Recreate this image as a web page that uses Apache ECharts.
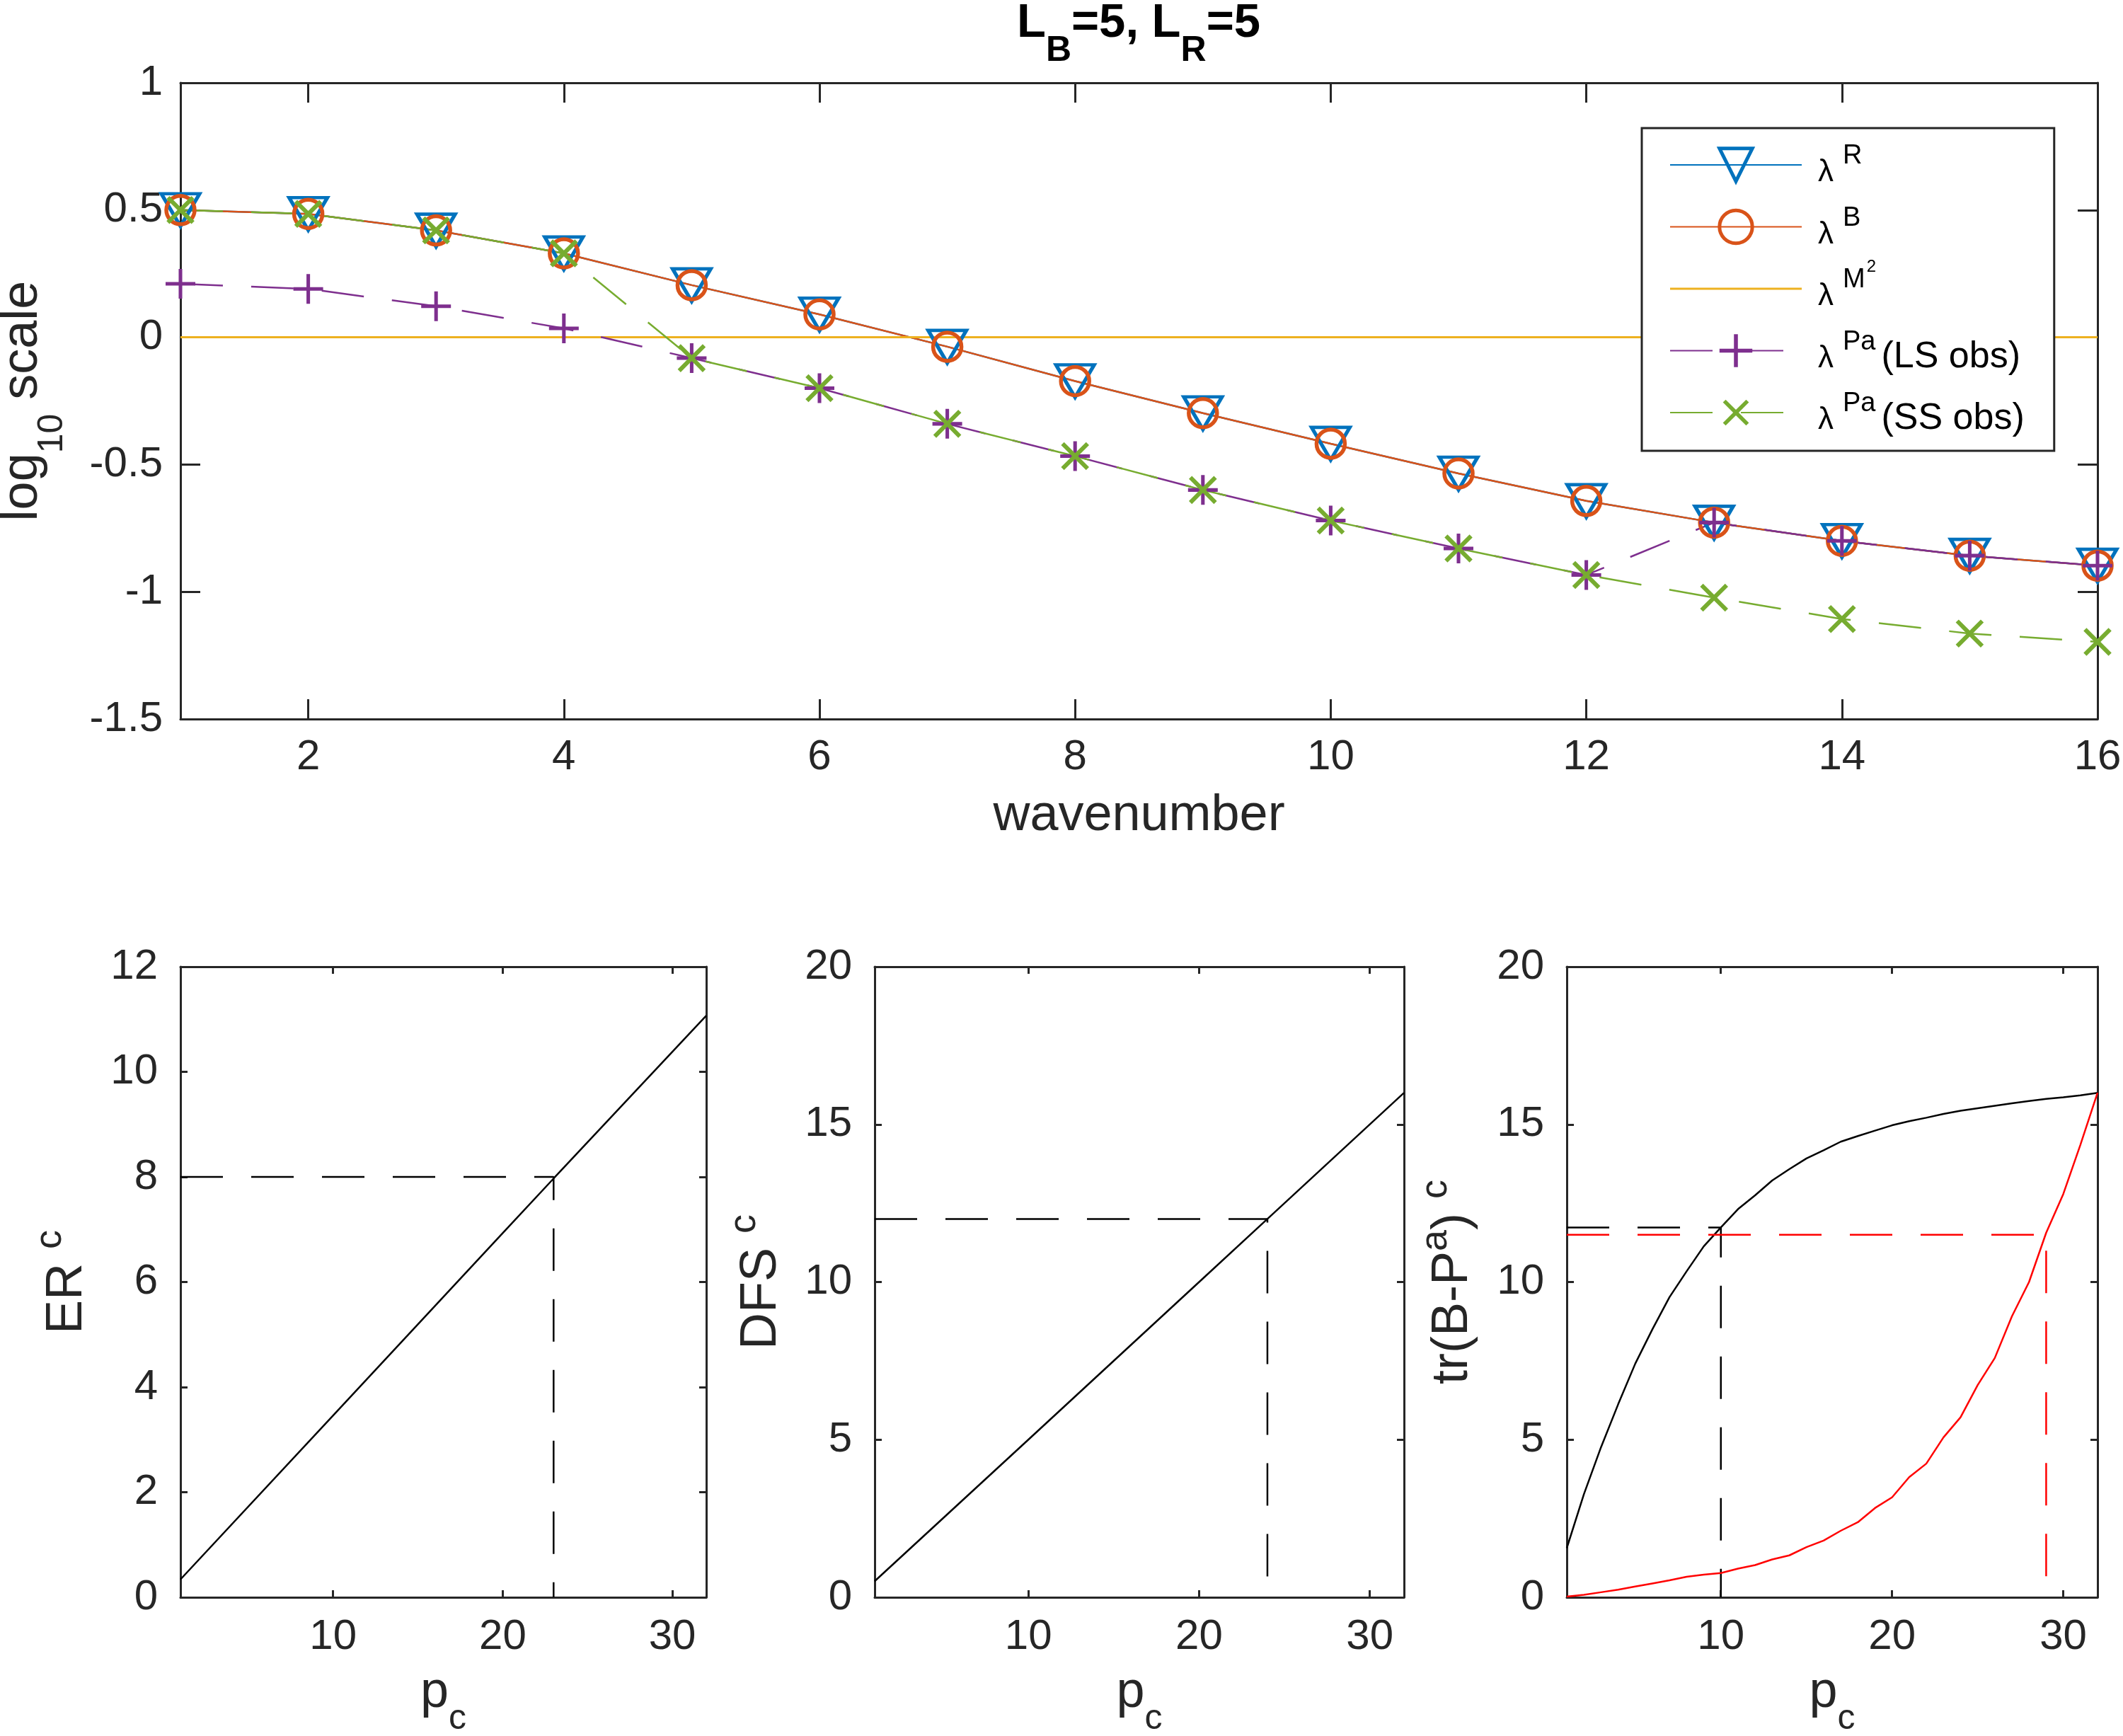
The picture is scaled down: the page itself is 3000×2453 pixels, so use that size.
<!DOCTYPE html>
<html><head><meta charset="utf-8">
<script src="https://cdn.jsdelivr.net/npm/echarts@6/dist/echarts.min.js"></script>
<style>html,body{margin:0;padding:0;background:#fff}#c{width:3000px;height:2453px}</style>
</head><body><div id="c"></div>
<script>
// ---------- data ----------
const wavenumbers = [1,2,3,4,5,6,7,8,9,10,11,12,13,14,15,16];
const lamR   = [0.50,0.485,0.42,0.33,0.205,0.09,-0.037,-0.172,-0.298,-0.418,-0.535,-0.643,-0.728,-0.800,-0.858,-0.897];
const lamB   = [0.50,0.485,0.42,0.33,0.205,0.09,-0.037,-0.172,-0.298,-0.418,-0.535,-0.643,-0.728,-0.800,-0.858,-0.897];
const lamM2  = [0,0,0,0,0,0,0,0,0,0,0,0,0,0,0,0];
const lamPaLS = [0.21,0.19,0.122,0.035,-0.082,-0.20,-0.34,-0.467,-0.60,-0.72,-0.83,-0.934,-0.728,-0.800,-0.858,-0.897];
const lamPaSS = [0.50,0.485,0.42,0.33,-0.082,-0.20,-0.34,-0.467,-0.60,-0.72,-0.83,-0.934,-1.023,-1.107,-1.164,-1.197];
const topXTicks = [2,4,6,8,10,12,14,16];

const pcER = [1,10,20,23,32];
const erC  = [0.34,3.46,6.93,7.97,11.07];
const erGuide = {level: 8, pc: 23};

const pcDFS = [1,10,20,24,32];
const dfsC  = [0.51,5.0,10.0,12.0,16.0];
const dfsGuide = {level: 12, pc: 24};

const pcTr = [1,2,3,4,5,6,7,8,9,10,11,12,13,14,15,16,17,18,19,20,21,22,23,24,25,26,27,28,29,30,31,32];
const trBlack = [1.56,3.27,4.76,6.12,7.41,8.5,9.52,10.34,11.13,11.73,12.31,12.75,13.22,13.58,13.92,14.18,14.45,14.63,14.8,14.97,15.1,15.21,15.33,15.43,15.51,15.59,15.67,15.74,15.81,15.86,15.92,16.0];
const trRed   = [0.02,0.08,0.16,0.24,0.34,0.44,0.54,0.65,0.72,0.77,0.91,1.02,1.2,1.33,1.59,1.8,2.11,2.38,2.83,3.17,3.81,4.24,5.07,5.71,6.73,7.59,8.91,10.0,11.56,12.79,14.35,16.0];
const trBlackGuide = {level: 11.73, pc: 10};
const trRedGuide   = {level: 11.5, pc: 29};
const botXTicks = [10,20,30];

// ---------- style ----------
const FONT = "'Liberation Sans', Arial, Helvetica, sans-serif";
const AX = '#262626';
const C = {blue:'#0072BD', orange:'#D95319', yellow:'#EDB120', purple:'#7E2F8E', green:'#77AC30'};
const DASH = [60, 40];
const pairs = (xs, ys) => xs.map((x, i) => [x, ys[i]]);
const guide = (g) => [[1, g.level], [g.pc, g.level], [g.pc, 0]];

const grids = [
  {left:255, top:117, width:2709, height:899, outerBoundsMode:'none', containLabel:false},
  {left:255, top:1366, width:743, height:891, outerBoundsMode:'none', containLabel:false},
  {left:1236, top:1366, width:748, height:891, outerBoundsMode:'none', containLabel:false},
  {left:2214, top:1366, width:750, height:891, outerBoundsMode:'none', containLabel:false}
];

const T = (o) => Object.assign({fontFamily:FONT, color:AX, verticalAlign:'top'}, o);
const richX = { m:T({fontSize:72, lineHeight:72, padding:[0,0,0,0]}), sub:T({fontSize:50, lineHeight:50, padding:[48,0,0,0]}) };
const richLog = { m:T({fontSize:72, lineHeight:72, padding:[0,0,0,0]}), sub:T({fontSize:50, lineHeight:50, padding:[53,0,0,0]}) };
const richSup = { m:T({fontSize:72, lineHeight:87, padding:[15,0,0,0]}), sup:T({fontSize:54, lineHeight:54, padding:[0,0,0,0]}) };

function xAxes(gi, min, max, ticks, tickLen, margin, name, nameGap, rich) {
  const base = {
    type:'value', gridIndex:gi, min:min, max:max,
    axisLine:{show:true, onZero:false, lineStyle:{color:AX, width:3}},
    axisTick:{show:true, inside:true, length:tickLen, customValues:ticks, lineStyle:{color:AX, width:3}},
    splitLine:{show:false}
  };
  return [
    Object.assign({}, base, {position:'bottom',
      axisLabel:{show:true, customValues:ticks, margin:margin, color:AX, fontSize:60, fontFamily:FONT},
      name:name, nameLocation:'middle', nameGap:nameGap, nameMoveOverlap:false,
      nameTextStyle:{fontSize:72, fontFamily:FONT, color:AX, rich:rich}}),
    Object.assign({}, base, {position:'top', axisLabel:{show:false}})
  ];
}
function yAxes(gi, min, max, interval, tickLen, margin, name, nameGap, rich) {
  const base = {
    type:'value', gridIndex:gi, min:min, max:max, interval:interval,
    axisLine:{show:true, onZero:false, lineStyle:{color:AX, width:3}},
    axisTick:{show:true, inside:true, length:tickLen, lineStyle:{color:AX, width:3}},
    splitLine:{show:false}
  };
  return [
    Object.assign({}, base, {position:'left',
      axisLabel:{show:true, margin:margin, color:AX, fontSize:60, fontFamily:FONT},
      name:name, nameLocation:'middle', nameGap:nameGap, nameRotate:90, nameMoveOverlap:false,
      nameTextStyle:{fontSize:72, fontFamily:FONT, color:AX, rich:rich}}),
    Object.assign({}, base, {position:'right', axisLabel:{show:false}})
  ];
}

const xAxis = [].concat(
  xAxes(0, 1, 16, topXTicks, 28, 24, '{m|wavenumber}', 101, richX),
  xAxes(1, 1, 32, botXTicks, 10, 26, '{m|p}{sub|c}', 99, richX),
  xAxes(2, 1, 32, botXTicks, 10, 26, '{m|p}{sub|c}', 99, richX),
  xAxes(3, 1, 32, botXTicks, 10, 26, '{m|p}{sub|c}', 99, richX)
);
const yAxis = [].concat(
  yAxes(0, -1.5, 1, 0.5, 28, 25, '{m|log}{sub|10}{m| scale}', 187, richLog),
  yAxes(1, 0, 12, 2, 10, 32, '{m|ER }{sup|c}', 124, richSup),
  yAxes(2, 0, 20, 5, 10, 32, '{m|DFS }{sup|c}', 124, richSup),
  yAxes(3, 0, 20, 5, 10, 32, '{m|tr(B-P}{sup|a}{m|) }{sup|c}', 125, richSup)
);

const PLUS = 'path://M44,0H56V44H100V56H56V100H44V56H0V44H44Z';

const series = [
  {name:'R', type:'line', xAxisIndex:0, yAxisIndex:0, data:pairs(wavenumbers, lamR),
   symbol:'triangle', symbolRotate:180, symbolSize:[54,46], showAllSymbol:true,
   lineStyle:{color:C.blue, width:2.5}, itemStyle:{color:'rgba(0,0,0,0)', borderColor:C.blue, borderWidth:5}},
  {name:'B', type:'line', xAxisIndex:0, yAxisIndex:0, data:pairs(wavenumbers, lamB),
   symbol:'circle', symbolSize:40, showAllSymbol:true,
   lineStyle:{color:C.orange, width:2.5}, itemStyle:{color:'rgba(0,0,0,0)', borderColor:C.orange, borderWidth:5.5}},
  {name:'M2', type:'line', xAxisIndex:0, yAxisIndex:0, data:pairs(wavenumbers, lamM2),
   symbol:'none', lineStyle:{color:C.yellow, width:3}, itemStyle:{color:C.yellow}},
  {name:'LS', type:'line', xAxisIndex:0, yAxisIndex:0, data:pairs(wavenumbers, lamPaLS),
   symbol:PLUS, symbolSize:42, showAllSymbol:true,
   lineStyle:{color:C.purple, width:2.5, type:DASH}, itemStyle:{color:C.purple, borderWidth:0}},
  {name:'SS', type:'line', xAxisIndex:0, yAxisIndex:0, data:pairs(wavenumbers, lamPaSS),
   symbol:PLUS, symbolRotate:45, symbolSize:50, showAllSymbol:true,
   lineStyle:{color:C.green, width:2.5, type:DASH}, itemStyle:{color:C.green, borderWidth:0}},

  {type:'line', xAxisIndex:2, yAxisIndex:2, data:pairs(pcER, erC), symbol:'none', lineStyle:{color:'#000', width:2.5}},
  {type:'line', xAxisIndex:2, yAxisIndex:2, data:guide(erGuide), symbol:'none', lineStyle:{color:'#000', width:2.5, type:DASH}},
  {type:'line', xAxisIndex:4, yAxisIndex:4, data:pairs(pcDFS, dfsC), symbol:'none', lineStyle:{color:'#000', width:2.5}},
  {type:'line', xAxisIndex:4, yAxisIndex:4, data:guide(dfsGuide), symbol:'none', lineStyle:{color:'#000', width:2.5, type:DASH}},
  {type:'line', xAxisIndex:6, yAxisIndex:6, data:pairs(pcTr, trBlack), symbol:'none', lineStyle:{color:'#000', width:2.5}},
  {type:'line', xAxisIndex:6, yAxisIndex:6, data:guide(trBlackGuide), symbol:'none', lineStyle:{color:'#000', width:2.5, type:DASH}},
  {type:'line', xAxisIndex:6, yAxisIndex:6, data:pairs(pcTr, trRed), symbol:'none', lineStyle:{color:'#FF0000', width:2.5}},
  {type:'line', xAxisIndex:6, yAxisIndex:6, data:guide(trRedGuide), symbol:'none', lineStyle:{color:'#FF0000', width:2.5, type:DASH}}
];

const legendLabels = {
  R:'{l|λ}{sp|R}', B:'{l|λ}{sp|B}', M2:'{l|λ}{sp|M}{ss|2}',
  LS:'{l|λ}{sp|Pa}{t|(LS obs)}', SS:'{l|λ}{sp|Pa}{t|(SS obs)}'
};
const LT = (o) => Object.assign({fontFamily:FONT, color:'#000', verticalAlign:'top', lineHeight:86}, o);

const option = {
  animation:false, backgroundColor:'#fff',
  title:{
    text:'{m|L}{s|B}{m|=5, L}{s|R}{m|=5}', left:1609, top:0, textAlign:'center', padding:0,
    textStyle:{rich:{
      m:{fontSize:67, fontWeight:'bold', fontFamily:FONT, color:'#000', lineHeight:70, verticalAlign:'top', padding:[0,0,0,0]},
      s:{fontSize:50, fontWeight:'bold', fontFamily:FONT, color:'#000', lineHeight:50, verticalAlign:'top', padding:[47,0,0,0]}
    }}
  },
  legend:{
    orient:'vertical', left:2320, top:181, itemWidth:186, itemHeight:58, itemGap:1.5,
    padding:[9,42,11,39], backgroundColor:'#fff', borderColor:AX, borderWidth:3, selectedMode:false,
    formatter:(n) => legendLabels[n],
    textStyle:{fontFamily:FONT, fontSize:52, color:'#000', lineHeight:86, rich:{
      l:LT({fontSize:44, padding:[32,0,0,18]}),
      t:LT({fontSize:52, padding:[26,0,0,8]}),
      sp:LT({fontSize:38, padding:[12,0,0,13]}),
      ss:LT({fontSize:24, padding:[0,0,0,2]})
    }},
    data:[
      {name:'R', itemStyle:{borderWidth:5}},
      {name:'B', itemStyle:{borderWidth:5}},
      {name:'M2', icon:'path://M0,0L186,0L186,3L0,3Z'},
      {name:'LS'},
      {name:'SS'}
    ]
  },
  grid:grids, xAxis:xAxis, yAxis:yAxis, series:series
};

const chart = echarts.init(document.getElementById('c'), null, {renderer:'canvas', width:3000, height:2453});
chart.setOption(option);
</script>
</body></html>
